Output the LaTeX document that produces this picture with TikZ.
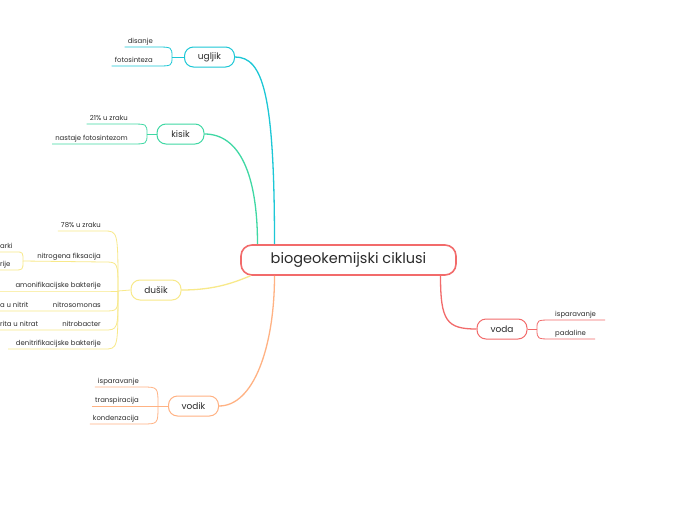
\documentclass[tikz,border=0pt]{standalone}
\usepackage{fontspec}
\setmainfont{Poppins}
\definecolor{cRed}{HTML}{F26B6B}
\definecolor{cCyan}{HTML}{1CC7D6}
\definecolor{cGreen}{HTML}{3FD8A4}
\definecolor{cYellow}{HTML}{F8E98A}
\definecolor{cOrange}{HTML}{FFB283}
\definecolor{txt}{HTML}{2B2B2B}
\tikzset{
  root/.style={draw=cRed, line width=1.6pt, rounded corners=11pt, fill=white, minimum width=215pt, minimum height=30pt, font=\fontsize{14.5}{16}\selectfont, text=txt},
  topic/.style={draw, line width=1pt, rounded corners=9pt, fill=white, minimum width=50pt, minimum height=20pt, font=\fontsize{9}{10}\selectfont, text=txt},
  leaf/.style={font=\fontsize{6.9}{8}\selectfont, text=txt, inner xsep=3pt, inner ysep=2pt, text height=5pt, text depth=1.5pt},
  main/.style={line width=1.3pt},
  twig/.style={line width=0.8pt}
}
\begin{document}
\begin{tikzpicture}[x=1pt, y=-1pt]
    \useasboundingbox[fill=white] (0,0) rectangle (697,520);

    % Boxes
    \node (bio) [root] at (348.5,260) {biogeokemijski ciklusi};
    \node (ugljik) [topic, draw=cCyan] at (209.5,57) {ugljik};
    \node (kisik) [topic, draw=cGreen, minimum width=47pt] at (180.5,134) {kisik};
    \node (dusik) [topic, draw=cYellow] at (156,290) {dušik};
    \node (vodik) [topic, draw=cOrange] at (193.5,406) {vodik};
    \node (voda) [topic, draw=cRed] at (502,329) {voda};

    % Junctions
    \coordinate (ju) at (172,57);
    \coordinate (jk) at (147,134);
    \coordinate (jd) at (118,291);
    \coordinate (jn) at (23,261);
    \coordinate (jv) at (158,406);
    \coordinate (jw) at (537,329);
    \coordinate (amleft) at (0,291);
    \coordinate (denleft) at (8,349);

    % Leaves
    \node (disanje) [leaf, anchor=south east] at (156,47) {disanje};
    \node (fotos) [leaf, anchor=south east] at (156,66) {fotosinteza};
    \node (zrak) [leaf, anchor=south east] at (131,124) {21\% u zraku};
    \node (nastaje) [leaf, anchor=south east] at (131,144) {nastaje fotosintezom};
    \node (dzrak) [leaf, anchor=south east] at (104,231) {78\% u zraku};
    \node (nfix) [leaf, anchor=south east] at (104,262) {nitrogena fiksacija};
    \node (amon) [leaf, anchor=south east] at (104,291) {amonifikacijske bakterije};
    \node (nsom) [leaf, anchor=south east] at (104,311) {nitrosomonas};
    \node (nbac) [leaf, anchor=south east] at (104,330) {nitrobacter};
    \node (denit) [leaf, anchor=south east] at (104,349) {denitrifikacijske bakterije};
    \node (arki) [leaf, anchor=south west] at (-3,252) {arki};
    \node (rije) [leaf, anchor=south west] at (-3,270) {rije};
    \node (unitrit) [leaf, anchor=south west] at (-3,311) {a u nitrit};
    \node (unitrat) [leaf, anchor=south west] at (-3,330) {rita u nitrat};
    \node (ispar) [leaf, anchor=south east] at (142,387) {isparavanje};
    \node (transp) [leaf, anchor=south east] at (142,406) {transpiracija};
    \node (konden) [leaf, anchor=south east] at (142,424) {kondenzacija};
    \node (isparw) [leaf, anchor=south west] at (552,320) {isparavanje};
    \node (padal) [leaf, anchor=south west] at (552,339) {padaline};

    % Main branches
    \draw[main, cCyan] (ugljik.east) .. controls +(28,0) and +(0,-150) .. ([xshift=-74pt]bio.north);
    \draw[main, cGreen] (kisik.east) .. controls +(35,0) and +(0,-70) .. ([xshift=-91pt]bio.north);
    \draw[main, cYellow] (dusik.east) .. controls +(35,0) and +(-15,6) .. ([xshift=-98pt]bio.south);
    \draw[main, cOrange] (vodik.east) .. controls +(35,0) and +(0,70) .. ([xshift=-74pt]bio.south);
    \draw[main, cRed] ([xshift=92pt]bio.south) .. controls +(0,45) and +(-30,0) .. (voda.west);

    % Twigs
    \draw[twig, cCyan] (ju) -- (ugljik.west);
    \draw[twig, cCyan] (disanje.south west) -- (disanje.south east) .. controls (ju |- disanje.south) .. (ju);
    \draw[twig, cCyan] (fotos.south west) -- (fotos.south east) .. controls (ju |- fotos.south) .. (ju);
    \draw[twig, cGreen] (jk) -- (kisik.west);
    \draw[twig, cGreen] (zrak.south west) -- (zrak.south east) .. controls (jk |- zrak.south) .. (jk);
    \draw[twig, cGreen] (nastaje.south west) -- (nastaje.south east) .. controls (jk |- nastaje.south) .. (jk);
    \draw[twig, cYellow] (jd) -- (dusik.west);
    \draw[twig, cYellow] (dzrak.south west) -- (dzrak.south east) .. controls (jd |- dzrak.south) .. (jd);
    \draw[twig, cYellow] (jn) -- (nfix.south east) .. controls (jd |- nfix.south) .. (jd);
    \draw[twig, cYellow] (amleft) -- (amon.south east) -- (jd);
    \draw[twig, cYellow] (unitrit.south west) -- (nsom.south east) .. controls (jd |- nsom.south) .. (jd);
    \draw[twig, cYellow] (unitrat.south west) -- (nbac.south east) .. controls (jd |- nbac.south) .. (jd);
    \draw[twig, cYellow] (denleft) -- (denit.south east) .. controls (jd |- denit.south) .. (jd);
    \draw[twig, cYellow] (arki.south west) -- (arki.south east) .. controls (jn |- arki.south) .. (jn);
    \draw[twig, cYellow] (rije.south west) -- (rije.south east) .. controls (jn |- rije.south) .. (jn);
    \draw[twig, cOrange] (jv) -- (vodik.west);
    \draw[twig, cOrange] (ispar.south west) -- (ispar.south east) .. controls (jv |- ispar.south) .. (jv);
    \draw[twig, cOrange] (transp.south west) -- (jv);
    \draw[twig, cOrange] (konden.south west) -- (konden.south east) .. controls (jv |- konden.south) .. (jv);
    \draw[twig, cRed] (voda.east) -- (jw);
    \draw[twig, cRed] (jw) .. controls (jw |- isparw.south) .. (isparw.south west) -- ([xshift=6pt]isparw.south east);
    \draw[twig, cRed] (jw) .. controls (jw |- padal.south) .. (padal.south west) -- ([xshift=6pt]padal.south east);
\end{tikzpicture}
\end{document}
